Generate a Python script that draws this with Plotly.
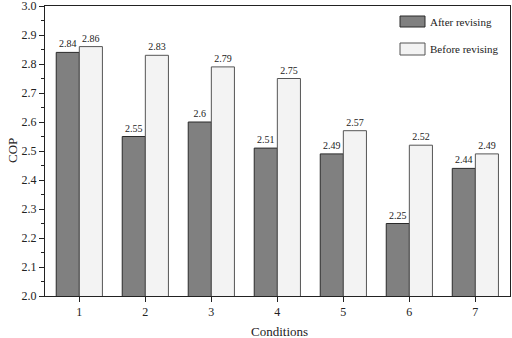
import plotly.graph_objects as go

conditions = [1, 2, 3, 4, 5, 6, 7]
after_revising = [2.84, 2.55, 2.60, 2.51, 2.49, 2.25, 2.44]
before_revising = [2.86, 2.83, 2.79, 2.75, 2.57, 2.52, 2.49]
after_labels = ["2.84", "2.55", "2.6", "2.51", "2.49", "2.25", "2.44"]
before_labels = ["2.86", "2.83", "2.79", "2.75", "2.57", "2.52", "2.49"]
series_names = ["After revising", "Before revising"]
y_ticks = [2.0, 2.1, 2.2, 2.3, 2.4, 2.5, 2.6, 2.7, 2.8, 2.9, 3.0]
y_tick_labels = ["2.0", "2.1", "2.2", "2.3", "2.4", "2.5", "2.6", "2.7", "2.8", "2.9", "3.0"]
x_title = "Conditions"
y_title = "COP"

FONT = "Liberation Serif, Times New Roman, serif"
DARK = "#808080"
LIGHT = "#f3f3f3"

fig = go.Figure()
fig.add_trace(go.Bar(
    x=conditions, y=after_revising, name=series_names[0],
    marker=dict(color=DARK, line=dict(color="#2a2a2a", width=1)),
    text=after_labels, textposition="outside", cliponaxis=False,
    textfont=dict(family=FONT, size=10, color="#222"),
))
fig.add_trace(go.Bar(
    x=conditions, y=before_revising, name=series_names[1],
    marker=dict(color=LIGHT, line=dict(color="#555555", width=1)),
    text=before_labels, textposition="outside", cliponaxis=False,
    textfont=dict(family=FONT, size=10, color="#222"),
))

# Custom legend (swatches + labels) and axis titles in paper coordinates
L, R, T, B = 45, 510, 6, 296
def px(x):
    return (x - L) / (R - L)
def py(y):
    return (B - y) / (B - T)

shapes = []
annotations = []
legend_items = [(16, 27, DARK, "#2a2a2a", series_names[0]),
                (43, 55, LIGHT, "#555555", series_names[1])]
for y0, y1, fill, line, name in legend_items:
    shapes.append(dict(type="rect", xref="paper", yref="paper",
                       x0=px(400), x1=px(425), y0=py(y1), y1=py(y0),
                       fillcolor=fill, line=dict(color=line, width=1)))
    annotations.append(dict(xref="paper", yref="paper", x=px(428), y=py((y0 + y1) / 2),
                            text=name, showarrow=False, xanchor="left", yanchor="middle",
                            font=dict(family=FONT, size=11, color="#222")))

annotations.append(dict(xref="paper", yref="paper", x=px(279), y=py(331),
                        text=x_title, showarrow=False, xanchor="center", yanchor="middle",
                        font=dict(family=FONT, size=13, color="#222")))
annotations.append(dict(xref="paper", yref="paper", x=px(12), y=py(151),
                        text=y_title, showarrow=False, xanchor="center", yanchor="middle",
                        textangle=-90, font=dict(family=FONT, size=13, color="#222")))

fig.update_layout(
    width=512, height=338,
    margin=dict(l=45, r=2, t=6, b=42, autoexpand=False),
    paper_bgcolor="white", plot_bgcolor="white",
    barmode="group", bargap=0.3, bargroupgap=0,
    showlegend=False,
    font=dict(family=FONT, size=12, color="#222"),
    shapes=shapes, annotations=annotations,
)
fig.update_xaxes(
    range=[0.48, 7.525], tickvals=conditions, ticktext=[str(c) for c in conditions],
    ticks="outside", ticklen=5, tickwidth=1, tickcolor="#222",
    showline=True, linecolor="#222", linewidth=1, mirror=True,
    showgrid=False, zeroline=False, automargin=False,
    tickfont=dict(family=FONT, size=12),
)
fig.update_yaxes(
    range=[2.0, 3.0], tickvals=y_ticks, ticktext=y_tick_labels,
    ticks="outside", ticklen=5, tickwidth=1, tickcolor="#222",
    ticklabeloverflow="allow",
    minor=dict(dtick=0.05, tick0=2.0, ticks="outside", ticklen=3, tickcolor="#222"),
    showline=True, linecolor="#222", linewidth=1, mirror=True,
    showgrid=False, zeroline=False, automargin=False,
    tickfont=dict(family=FONT, size=12),
)

fig.write_html("out.html", config={"displayModeBar": False},
               post_script="document.body.style.margin='0';document.body.style.padding='0';")
